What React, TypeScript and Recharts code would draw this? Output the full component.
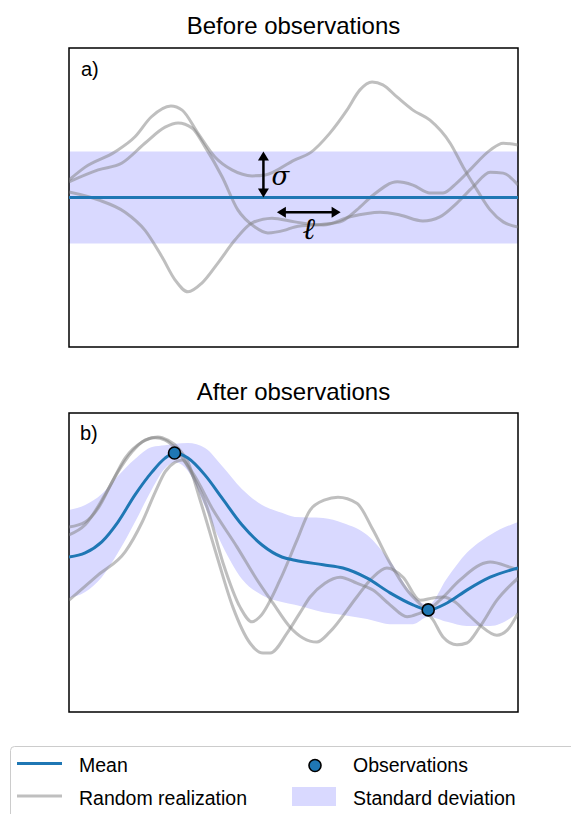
import React from 'react';
import { ComposedChart, Line, Area, Scatter, XAxis, YAxis, ReferenceArea, ReferenceLine } from 'recharts';

const W = 571;
const H = 814;
const FONT = "'Liberation Sans', Arial, sans-serif";
const X_DOMAIN: [number, number] = [0, 10];
const Y_DOMAIN: [number, number] = [-3.25, 3.25];

const MEAN_COLOR = '#1f77b4';
const SAMPLE_COLOR = '#808080';
const BAND_COLOR = '#d9d9ff';

// ---------- Panel a: prior ----------
const priorX = [0, 10];
const priorMean = [0, 0];
const priorStd = [1, 1];

const priorSampleA: [number, number][] = [
  [0, 0.38], [0.36, 0.66], [1.02, 0.99], [1.47, 1.32], [1.83, 1.75], [2.27, 1.99], [2.52, 1.9],
  [2.87, 1.4], [3.25, 0.88], [3.63, 0.6], [4.08, 0.47], [4.37, 0.49], [5.03, 0.82], [5.37, 0.97],
  [5.81, 1.4], [6.19, 1.9], [6.48, 2.34], [6.75, 2.51], [6.99, 2.45], [7.31, 2.18], [7.66, 1.9],
  [8.04, 1.68], [8.49, 1.18], [8.78, 0.66], [9.09, 0.16], [9.38, -0.27], [9.67, -0.53], [10, -0.64],
];
const priorSampleB: [number, number][] = [
  [0, 0.34], [0.65, 0.6], [1.18, 0.75], [1.69, 1.18], [2.14, 1.53], [2.43, 1.62], [2.74, 1.51],
  [3.03, 1.1], [3.41, 0.45], [3.76, -0.27], [4.14, -0.64], [4.43, -0.77], [4.81, -0.71], [5.03, -0.64],
  [5.66, -0.58], [6.04, -0.53], [6.41, -0.27], [6.77, 0.05], [7.31, 0.34], [7.66, 0.27], [8.04, 0.1],
  [8.33, 0.1], [8.64, 0.32], [8.93, 0.6], [9.38, 1.03], [9.67, 1.18], [10, 1.14],
];
const priorSampleC: [number, number][] = [
  [0, 0.12], [0.65, -0.05], [1.25, -0.32], [1.69, -0.71], [2.07, -1.29], [2.36, -1.79], [2.65, -2.05],
  [2.96, -1.86], [3.32, -1.42], [3.7, -0.92], [4.08, -0.55], [4.52, -0.45], [5.03, -0.53], [5.66, -0.6],
  [6.26, -0.42], [6.93, -0.32], [7.37, -0.38], [7.88, -0.51], [8.26, -0.42], [8.64, -0.12], [9.0, 0.23],
  [9.38, 0.55], [9.67, 0.53], [10, 0.27],
];

const sigmaArrow = { x: 4.33, from: 0, to: 1 };
const lengthArrow = { y: -0.32, from: 4.63, to: 6.05 };

// ---------- Panel b: posterior ----------
const postX = [0, 0.36, 0.73, 1.09, 1.47, 1.85, 2.14, 2.36, 2.65, 3.03, 3.41, 3.85, 4.3, 4.74, 5.03, 5.66, 6.1, 6.64, 7.15, 7.66, 8.0, 8.42, 8.86, 9.38, 10];
const postMean = [0.12, 0.21, 0.45, 0.88, 1.47, 1.97, 2.27, 2.38, 2.27, 1.9, 1.4, 0.82, 0.38, 0.12, 0.05, -0.05, -0.12, -0.34, -0.66, -0.92, -1.03, -0.88, -0.6, -0.32, -0.12];
const postUpper = [1.14, 1.25, 1.49, 1.88, 2.25, 2.51, 2.55, 2.58, 2.6, 2.49, 2.1, 1.6, 1.25, 1.08, 0.99, 0.97, 0.86, 0.6, 0.03, -0.71, -0.92, -0.34, 0.21, 0.6, 0.88];
const postLower = [-0.77, -0.64, -0.32, 0.21, 0.88, 1.6, 2.05, 2.18, 1.99, 1.21, 0.38, -0.36, -0.71, -0.86, -0.92, -1.08, -1.14, -1.23, -1.34, -1.34, -1.18, -1.29, -1.38, -1.38, -1.1];

const postSample1: [number, number][] = [
  [0, 0.77], [0.36, 0.88], [0.65, 1.18], [0.96, 1.75], [1.25, 2.27], [1.63, 2.62], [1.92, 2.71],
  [2.14, 2.66], [2.36, 2.49], [2.69, 2.01], [3.07, 1.21], [3.43, -0.01], [3.81, -0.97], [4.08, -1.29],
  [4.25, -1.18], [4.7, -0.38], [5.08, 0.49], [5.37, 1.14], [5.7, 1.36], [5.99, 1.42], [6.41, 1.29],
  [6.77, 0.71], [7.15, -0.01], [7.53, -0.6], [7.88, -0.97], [8.11, -1.25], [8.33, -1.62], [8.64, -1.79],
  [8.86, -1.75], [9.15, -1.4], [9.53, -0.82], [10, -0.34],
];
const postSample2: [number, number][] = [
  [0, 0.6], [0.36, 0.82], [0.8, 1.47], [1.09, 1.97], [1.4, 2.4], [1.69, 2.66], [1.98, 2.73],
  [2.2, 2.66], [2.43, 2.49], [2.65, 2.18], [2.92, 1.36], [3.3, 0.12], [3.65, -0.97], [4.03, -1.75],
  [4.32, -1.97], [4.48, -1.97], [4.86, -1.53], [5.14, -1.1], [5.37, -0.75], [5.7, -0.45], [6.04, -0.32],
  [6.41, -0.45], [6.77, -0.6], [7.15, -0.92], [7.53, -1.18], [7.82, -1.1], [8.0, -1.03], [8.26, -0.82],
  [8.71, -0.38], [9.15, -0.05], [9.38, 0.01], [9.82, -0.1], [10, -0.16],
];
const postSample3: [number, number][] = [
  [0, -0.82], [0.65, -0.27], [1.25, 0.23], [1.63, 0.88], [1.92, 1.53], [2.14, 1.97], [2.36, 2.18],
  [2.52, 2.23], [2.74, 1.97], [3.21, 1.14], [3.74, 0.34], [4.19, -0.38], [4.54, -0.88], [4.92, -1.4],
  [5.21, -1.64], [5.52, -1.73], [5.81, -1.51], [6.41, -0.75], [6.75, -0.34], [7.08, -0.12], [7.44, -0.32],
  [7.82, -0.82], [8.11, -0.77], [8.33, -0.75], [8.6, -0.86], [8.86, -1.1], [9.15, -1.36], [9.53, -1.58],
  [9.76, -1.47], [10, -1.1],
];

const obsX = [2.35, 8.0];
const obsY = [2.38, -1.03];

// ---------- derived tables ----------
const priorData = priorX.map((x, i) => ({
  x,
  mean: priorMean[i],
  band: [priorMean[i] - priorStd[i], priorMean[i] + priorStd[i]],
}));
const postData = postX.map((x, i) => ({ x, mean: postMean[i], band: [postLower[i], postUpper[i]] }));
const obsData = obsX.map((x, i) => ({ x, y: obsY[i] }));
const toPts = (pts: [number, number][]) => pts.map(([x, y]) => ({ x, y }));

const CHART_W = 571;
const CHART_H = 360;
const MARGIN = { top: 48, left: 69, right: 53, bottom: 13 };

const DoubleArrow = (props: any) => {
  const { x1, y1, x2, y2, label, labelDx, labelDy, anchor, fontSize } = props;
  const dx = x2 - x1;
  const dy = y2 - y1;
  const len = Math.hypot(dx, dy) || 1;
  const ux = dx / len;
  const uy = dy / len;
  const px = -uy;
  const py = ux;
  const hl = 9;
  const hw = 5.5;
  const head = (tx: number, ty: number, ex: number, ey: number) =>
    `${tx},${ty} ${tx - ex * hl + px * hw},${ty - ey * hl + py * hw} ${tx - ex * hl - px * hw},${ty - ey * hl - py * hw}`;
  const mx = (x1 + x2) / 2;
  const my = (y1 + y2) / 2;
  return (
    <g>
      <line x1={x1 + ux * 6} y1={y1 + uy * 6} x2={x2 - ux * 6} y2={y2 - uy * 6} stroke="#000" strokeWidth={2.5} />
      <polygon points={head(x2, y2, ux, uy)} fill="#000" />
      <polygon points={head(x1, y1, -ux, -uy)} fill="#000" />
      <text
        x={mx + labelDx}
        y={my + labelDy}
        textAnchor={anchor}
        fontFamily="'DejaVu Serif', serif"
        fontStyle="italic"
        fontSize={fontSize}
        fill="#000"
      >
        {label}
      </text>
    </g>
  );
};

const ObsDot = (props: any) => (
  <circle cx={props.cx} cy={props.cy} r={6} fill={MEAN_COLOR} stroke="#000" strokeWidth={1.6} />
);

const Frame = () => (
  <ReferenceArea
    x1={X_DOMAIN[0]}
    x2={X_DOMAIN[1]}
    y1={Y_DOMAIN[0]}
    y2={Y_DOMAIN[1]}
    fill="none"
    fillOpacity={0}
    stroke="#000"
    strokeWidth={1.5}
    strokeOpacity={1}
  />
);

const sampleLine = (pts: [number, number][], key: string) => (
  <Line
    key={key}
    data={toPts(pts)}
    dataKey="y"
    type="monotone"
    stroke={SAMPLE_COLOR}
    strokeOpacity={0.5}
    strokeWidth={3}
    dot={false}
    activeDot={false}
    isAnimationActive={false}
  />
);

const PriorChart = () => (
  <ComposedChart width={CHART_W} height={CHART_H} data={priorData} margin={MARGIN}>
    <XAxis dataKey="x" type="number" domain={X_DOMAIN} hide allowDataOverflow />
    <YAxis type="number" domain={Y_DOMAIN} hide allowDataOverflow />
    <Area dataKey="band" type="linear" stroke="none" fill={BAND_COLOR} fillOpacity={1} isAnimationActive={false} />
    {sampleLine(priorSampleA, 'a')}
    {sampleLine(priorSampleB, 'b')}
    {sampleLine(priorSampleC, 'c')}
    <Line dataKey="mean" type="linear" stroke={MEAN_COLOR} strokeWidth={3} dot={false} activeDot={false} isAnimationActive={false} />
    <ReferenceLine
      segment={[{ x: sigmaArrow.x, y: sigmaArrow.from }, { x: sigmaArrow.x, y: sigmaArrow.to }]}
      ifOverflow="visible"
      shape={(p: any) => <DoubleArrow {...p} label="σ" labelDx={8} labelDy={10} anchor="start" fontSize={26} />}
    />
    <ReferenceLine
      segment={[{ x: lengthArrow.from, y: lengthArrow.y }, { x: lengthArrow.to, y: lengthArrow.y }]}
      ifOverflow="visible"
      shape={(p: any) => <DoubleArrow {...p} label="ℓ" labelDx={0} labelDy={27} anchor="middle" fontSize={30} />}
    />
    {Frame()}
  </ComposedChart>
);

const PosteriorChart = () => (
  <ComposedChart width={CHART_W} height={CHART_H} data={postData} margin={MARGIN}>
    <XAxis dataKey="x" type="number" domain={X_DOMAIN} hide allowDataOverflow />
    <YAxis type="number" domain={Y_DOMAIN} hide allowDataOverflow />
    <Area dataKey="band" type="monotone" stroke="none" fill={BAND_COLOR} fillOpacity={1} isAnimationActive={false} />
    {sampleLine(postSample1, 's1')}
    {sampleLine(postSample2, 's2')}
    {sampleLine(postSample3, 's3')}
    <Line dataKey="mean" type="monotone" stroke={MEAN_COLOR} strokeWidth={3} dot={false} activeDot={false} isAnimationActive={false} />
    <Scatter data={obsData} dataKey="y" shape={ObsDot} isAnimationActive={false} />
    {Frame()}
  </ComposedChart>
);

export default function App() {
  return (
    <div style={{ position: 'absolute', left: 0, top: 0, width: W, height: H, overflow: 'hidden', background: '#fff', fontFamily: FONT }}>
      <div style={{ position: 'absolute', left: 0, top: 0 }}>
        <PriorChart />
      </div>
      <div style={{ position: 'absolute', left: 0, top: 365 }}>
        <PosteriorChart />
      </div>
      <svg width={W} height={H} style={{ position: 'absolute', left: 0, top: 0, pointerEvents: 'none' }}>
        <g fontFamily={FONT} fill="#000">
          <text x={293.5} y={33.5} fontSize={24} textAnchor="middle">Before observations</text>
          <text x={293.5} y={400} fontSize={24} textAnchor="middle">After observations</text>
          <text x={81} y={76} fontSize={20}>a)</text>
          <text x={80} y={440} fontSize={20}>b)</text>
        </g>
        <rect x={10.5} y={746.5} width={620} height={120} rx={4} fill="#fff" stroke="#cccccc" strokeWidth={1} />
        <line x1={17} x2={62} y1={763.5} y2={763.5} stroke={MEAN_COLOR} strokeWidth={3} />
        <line x1={17} x2={62} y1={796} y2={796} stroke={SAMPLE_COLOR} strokeOpacity={0.5} strokeWidth={3} />
        <circle cx={315} cy={765.5} r={6} fill={MEAN_COLOR} stroke="#000" strokeWidth={1.6} />
        <rect x={292} y={787} width={44} height={19} fill={BAND_COLOR} />
        <g fontFamily={FONT} fontSize={19.5} fill="#000">
          <text x={79} y={772}>Mean</text>
          <text x={79} y={805}>Random realization</text>
          <text x={353} y={772}>Observations</text>
          <text x={353} y={805}>Standard deviation</text>
        </g>
      </svg>
    </div>
  );
}
